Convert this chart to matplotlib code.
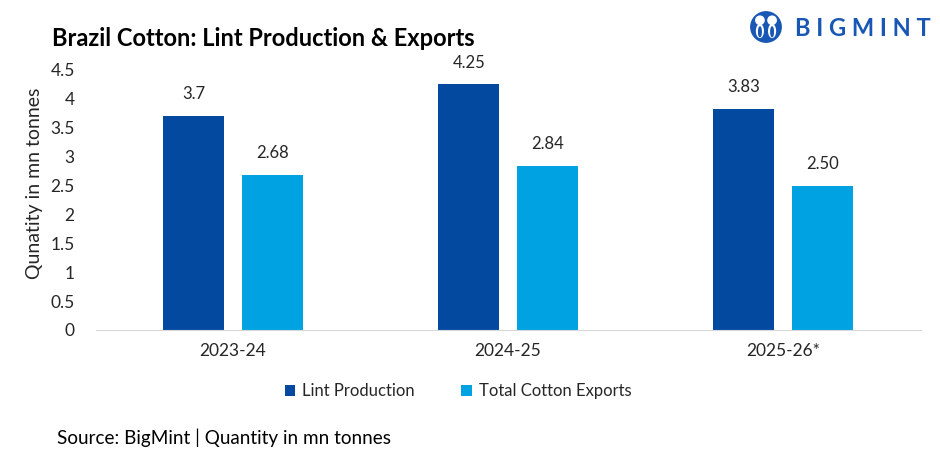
import matplotlib.pyplot as plt
from matplotlib.patches import Circle, Ellipse
import numpy as np

plt.rcParams['font.family'] = ['Lato', 'DejaVu Sans']

# chart data
seasons = ["2023-24", "2024-25", "2025-26*"]
lint_production = [3.7, 4.25, 3.83]
cotton_exports = [2.68, 2.84, 2.50]
lint_labels = ["3.7", "4.25", "3.83"]
export_labels = ["2.68", "2.84", "2.50"]

dark_blue = "#0349A0"
light_blue = "#00A2E1"

fig = plt.figure(figsize=(9.4, 4.7), dpi=100)
ax = fig.add_axes([95.5 / 940, 1 - 330 / 470, 825 / 940, 260 / 470])

x = np.arange(len(seasons))
w = 0.222
off = 0.143
b1 = ax.bar(x - off, lint_production, w, color=dark_blue, label="Lint Production")
b2 = ax.bar(x + off, cotton_exports, w, color=light_blue, label="Total Cotton Exports")

for bars, labels in [(b1, lint_labels), (b2, export_labels)]:
    for rect, lab in zip(bars, labels):
        ax.annotate(lab, (rect.get_x() + rect.get_width() / 2, rect.get_height()),
                    xytext=(0, 10), textcoords="offset points", ha="center", va="bottom",
                    fontsize=12, color="#262626", annotation_clip=False)

ax.set_xlim(-0.5, 2.5)
ax.set_ylim(0, 4.5)
ax.set_yticks(np.arange(0, 4.51, 0.5))
ax.set_yticklabels(["0", "0.5", "1", "1.5", "2", "2.5", "3", "3.5", "4", "4.5"])
ax.set_xticks(x)
ax.set_xticklabels(seasons)
ax.tick_params(axis="both", length=0, labelsize=12.5, colors="#262626")
ax.tick_params(axis="y", pad=15)
ax.tick_params(axis="x", pad=9)
for s in ["top", "right", "left"]:
    ax.spines[s].set_visible(False)
ax.spines["bottom"].set_color("#D9D9D9")
ax.set_ylabel("Qunatity in mn tonnes", fontsize=14, color="#262626")
ax.yaxis.set_label_coords(43 / 940, 1 - 183 / 470, transform=fig.transFigure)

ax.legend(loc="center", bbox_to_anchor=(458 / 940, 1 - 391 / 470), bbox_transform=fig.transFigure,
          ncol=2, frameon=False, fontsize=12, handlelength=0.65, handleheight=0.65,
          columnspacing=2.8, handletextpad=0.4, labelcolor="#262626")

fig.text(52 / 940, 1 - 39 / 470, "Brazil Cotton: Lint Production & Exports",
         fontsize=17, fontweight="bold", color="black", va="center", ha="left")
fig.text(57 / 940, 1 - 438 / 470, "Source: BigMint | Quantity in mn tonnes",
         fontsize=13.6, color="black", va="center", ha="left")

# logo
logo_blue = "#1957B5"
lax = fig.add_axes([750 / 940, 1 - 43 / 470, 32 / 940, 32 / 470])
lax.set_xlim(-1, 1)
lax.set_ylim(-1, 1)
lax.axis("off")
lax.add_patch(Circle((0, 0), 0.95, color=logo_blue))
for hx in (-0.38, 0.38):
    lax.add_patch(Circle((hx, 0.42), 0.26, color="white"))
    lax.add_patch(Ellipse((hx, -0.25), 0.42, 0.8, color="white"))
    lax.add_patch(Ellipse((hx, -0.3), 0.16, 0.6, color=logo_blue))
fig.text(795 / 940, 1 - 29 / 470, "B I G M I N T", color=logo_blue, fontsize=17,
         fontweight="bold", ha="left", va="center")

fig.savefig("out.png", dpi=100)
